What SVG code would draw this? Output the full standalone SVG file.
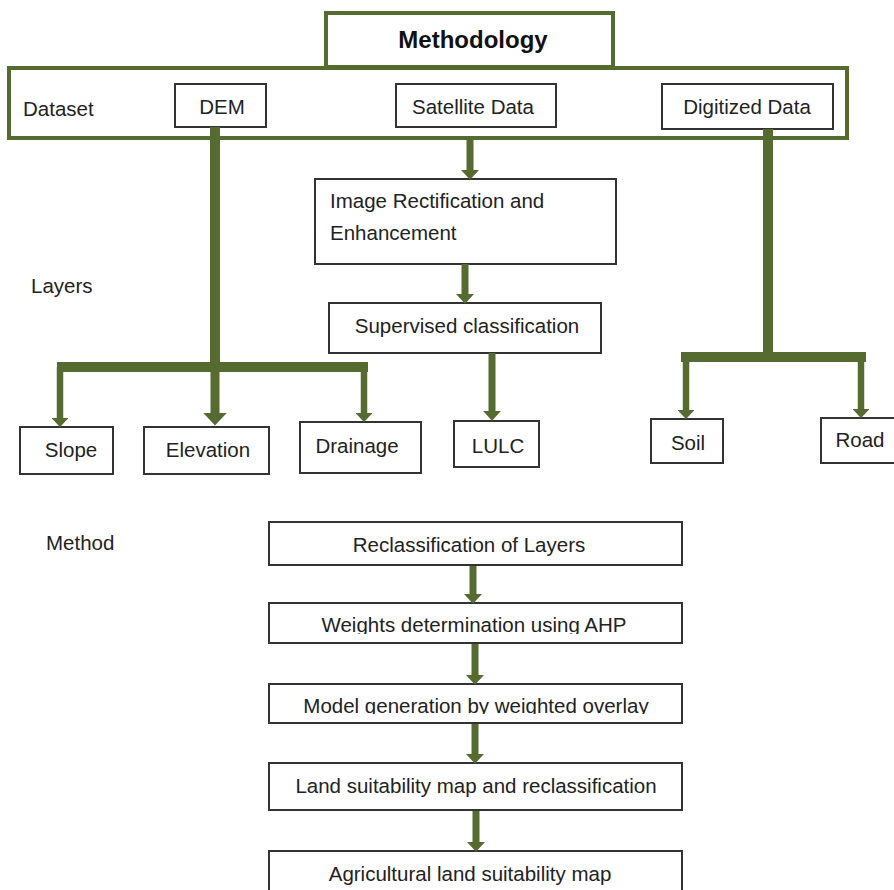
<svg xmlns="http://www.w3.org/2000/svg" width="894" height="890" viewBox="0 0 894 890">
<style>
.box{fill:#fff;stroke:#333;stroke-width:2}
.gbox{fill:#fff;stroke:#556b2f;stroke-width:4}
.t{font-family:"Liberation Sans",Arial,sans-serif;font-size:20.5px;fill:#222}
.c{text-anchor:middle}
.ttl{font-family:"Liberation Sans",Arial,sans-serif;font-size:24px;font-weight:bold;fill:#111;text-anchor:middle}
.cn{fill:none;stroke:#556b2f;stroke-linecap:butt}
</style>
<defs>
<marker id="ah" viewBox="0 0 14 26" markerWidth="1.4" markerHeight="2.6" refX="0" refY="13" orient="auto" markerUnits="strokeWidth">
<path d="M0,0 L14,13 L0,26 z" fill="#556b2f"/>
</marker>
<clipPath id="cw"><rect x="260" y="600" width="430" height="34"/></clipPath>
<clipPath id="cm"><rect x="260" y="680" width="430" height="34"/></clipPath>
</defs>
<rect width="894" height="890" fill="#fff"/>

<g id="methodology"><rect class="gbox" x="326" y="13" width="287" height="54"/><text class="ttl" x="473" y="48">Methodology</text></g>
<g id="dataset"><rect class="gbox" x="9" y="68" width="838" height="70"/><text class="t" x="23" y="116">Dataset</text></g>
<g id="dem"><rect class="box" x="175" y="84" width="91" height="43"/><text class="t c" x="222" y="114">DEM</text></g>
<g id="satellite"><rect class="box" x="396" y="84" width="160" height="43"/><text class="t c" x="473" y="114">Satellite Data</text></g>
<g id="digitized"><rect class="box" x="662" y="84" width="171" height="45"/><text class="t c" x="747" y="114">Digitized Data</text></g>

<g id="layers-label"><text class="t" x="31" y="293">Layers</text></g>
<g id="method-label"><text class="t" x="46" y="550">Method</text></g>

<g id="rectification"><rect class="box" x="315" y="179" width="301" height="85"/><text class="t" x="330" y="208">Image Rectification and</text><text class="t" x="330" y="240">Enhancement</text></g>
<g id="supervised"><rect class="box" x="329" y="303" width="272" height="50"/><text class="t c" x="467" y="333">Supervised classification</text></g>

<g id="slope"><rect class="box" x="20" y="427" width="93" height="47"/><text class="t c" x="71" y="457">Slope</text></g>
<g id="elevation"><rect class="box" x="144" y="427" width="125" height="47"/><text class="t c" x="208" y="457">Elevation</text></g>
<g id="drainage"><rect class="box" x="300" y="422" width="121" height="51"/><text class="t c" x="357" y="453">Drainage</text></g>
<g id="lulc"><rect class="box" x="454" y="421" width="85" height="46"/><text class="t c" x="498" y="453">LULC</text></g>
<g id="soil"><rect class="box" x="651" y="419" width="72" height="44"/><text class="t c" x="688" y="450">Soil</text></g>
<g id="road"><rect class="box" x="821" y="418" width="80" height="45"/><text class="t c" x="860" y="447">Road</text></g>

<g id="reclass"><rect class="box" x="269" y="522" width="413" height="43"/><text class="t c" x="469" y="552">Reclassification of Layers</text></g>
<g id="weights"><rect class="box" x="269" y="603" width="413" height="40"/><text class="t c" x="474" y="632" clip-path="url(#cw)">Weights determination using AHP</text></g>
<g id="model"><rect class="box" x="269" y="684" width="413" height="39"/><text class="t c" x="476" y="713" clip-path="url(#cm)">Model generation by weighted overlay</text></g>
<g id="landsuit"><rect class="box" x="269" y="763" width="413" height="47"/><text class="t c" x="476" y="793">Land suitability map and reclassification</text></g>
<g id="agri"><rect class="box" x="269" y="851" width="413" height="45"/><text class="t c" x="470" y="881">Agricultural land suitability map</text></g>

<g id="connectors">
<line class="cn" x1="215" y1="127" x2="215" y2="367" stroke-width="10"/>
<line class="cn" x1="57" y1="367" x2="368" y2="367" stroke-width="10"/>
<line class="cn" x1="215" y1="367" x2="215" y2="413" stroke-width="9" marker-end="url(#ah)"/>
<line class="cn" x1="60" y1="367" x2="60" y2="418" stroke-width="6.5" marker-end="url(#ah)"/>
<line class="cn" x1="364" y1="367" x2="364" y2="413" stroke-width="6.5" marker-end="url(#ah)"/>

<line class="cn" x1="768" y1="129" x2="768" y2="357" stroke-width="10"/>
<line class="cn" x1="681" y1="357" x2="866" y2="357" stroke-width="10"/>
<line class="cn" x1="686" y1="357" x2="686" y2="410" stroke-width="6.5" marker-end="url(#ah)"/>
<line class="cn" x1="861" y1="357" x2="861" y2="409" stroke-width="6.5" marker-end="url(#ah)"/>

<line class="cn" x1="470" y1="139" x2="470" y2="170" stroke-width="7" marker-end="url(#ah)"/>
<line class="cn" x1="465" y1="264" x2="465" y2="294" stroke-width="7" marker-end="url(#ah)"/>
<line class="cn" x1="492" y1="353" x2="492" y2="411" stroke-width="7" marker-end="url(#ah)"/>

<line class="cn" x1="473" y1="566" x2="473" y2="594" stroke-width="7" marker-end="url(#ah)"/>
<line class="cn" x1="475" y1="644" x2="475" y2="675" stroke-width="7" marker-end="url(#ah)"/>
<line class="cn" x1="475" y1="724" x2="475" y2="754" stroke-width="7" marker-end="url(#ah)"/>
<line class="cn" x1="476" y1="811" x2="476" y2="842" stroke-width="7" marker-end="url(#ah)"/>
</g>
</svg>
